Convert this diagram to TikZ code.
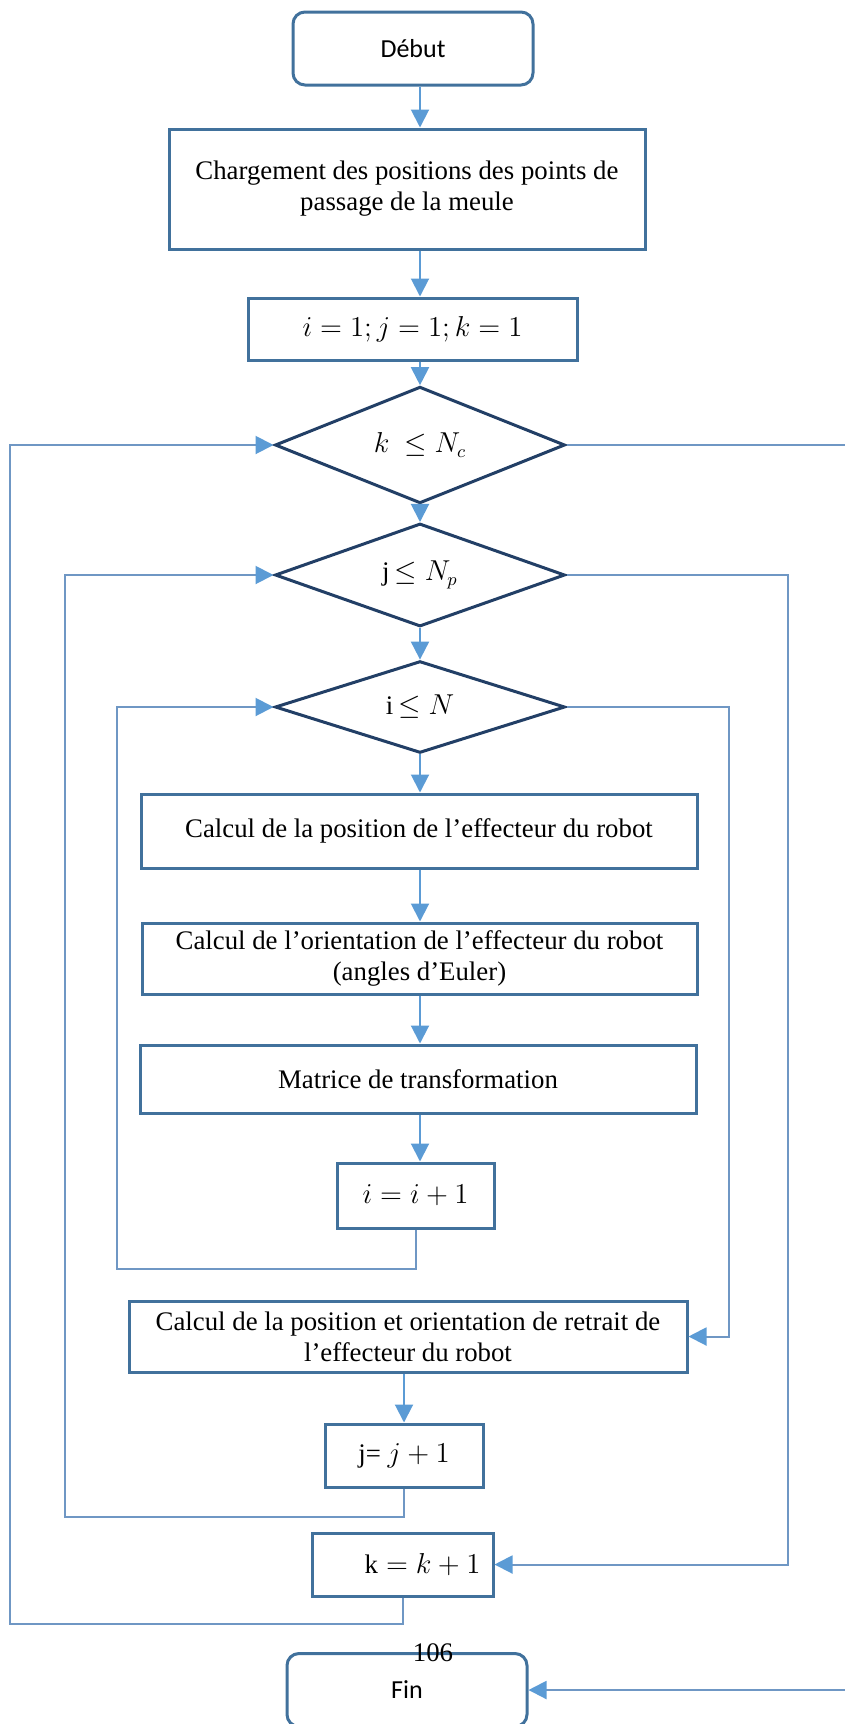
\documentclass[tikz,border=0pt]{standalone}
\usepackage{fontspec}
\setmainfont{Liberation Serif}
\newfontfamily\calibri{Carlito}
\usepackage{tikz}
\usetikzlibrary{positioning,shapes.geometric,arrows.meta,calc}
\definecolor{boxline}{HTML}{41719C}
\definecolor{diamline}{HTML}{223F66}
\definecolor{arrowblue}{HTML}{5B9BD5}
\definecolor{loopline}{HTML}{6F97C4}

\begin{document}
\begin{tikzpicture}[x=0.5pt,y=-0.5pt,
    bloc/.style={draw=boxline,line width=1.5pt,rectangle,align=center,inner sep=2pt,
        font=\fontsize{13.4}{15.5}\selectfont},
    term/.style={bloc,rounded corners=6pt,minimum width=120pt,minimum height=36.5pt,
        font=\calibri\fontsize{13}{15}\selectfont},
    test/.style={draw=diamline,line width=1.5pt,diamond,inner sep=0pt,
        minimum width=145pt,minimum height=41.5pt,font=\fontsize{13.4}{15}\selectfont},
    fleche/.style={draw=arrowblue,line width=1pt,-{Triangle[width=9pt,length=9pt,color=arrowblue]}},
    retour/.style={fleche,draw=loopline}]
    \useasboundingbox (0,0) rectangle (845,1724);

    % blocs
    \node[term] (debut) at (413,48.5) {Début};
    \node[bloc,minimum width=238pt,minimum height=60pt] (charg) at (407,189)
        {Chargement des positions des points de\\passage de la meule};
    \node[bloc,minimum width=164.5pt,minimum height=31pt] (init) at (412.5,329) {$i=1; j=1; k=1$};
    \node[test] (kcond) at (420,445) {$k\ \leq N_c$};
    \node[test] (jcond) at (420,575) {j$\,\leq N_p$};
    \node[test] (icond) at (420,707) {i$\,\leq N$};
    \node[bloc,minimum width=278pt,minimum height=37pt] (pos) at (419,831)
        {Calcul de la position de l’effecteur du robot};
    \node[bloc,minimum width=277.5pt,minimum height=35.5pt] (orient) at (419.5,958.5)
        {Calcul de l’orientation de l’effecteur du robot\\(angles d’Euler)};
    \node[bloc,minimum width=278pt,minimum height=34pt] (matrice) at (418,1079) {Matrice de transformation};
    \node[bloc,minimum width=78.5pt,minimum height=32.5pt] (iinc) at (415.5,1195.5) {$i=i+1$};
    \node[bloc,minimum width=279pt,minimum height=35.5pt] (retrait) at (408,1336.5)
        {Calcul de la position et orientation de retrait de\\l’effecteur du robot};
    \node[bloc,minimum width=79pt,minimum height=31.5pt] (jinc) at (404,1455.5) {j= $j+1$};
    \node[bloc,minimum width=90.5pt,minimum height=31.5pt] (kinc) at (402.5,1564.5)
        {\hspace*{20pt}$\mathrm{k}=k+1$};
    \node[term] (fin) at (407,1690) {Fin};
    \node[font=\fontsize{13.4}{15}\selectfont] (page) at (433,1653) {106};

    % fleches principales
    \draw[fleche] (debut.south -| kcond) -- (charg.north -| kcond);
    \draw[fleche] (charg.south -| kcond) -- (init.north -| kcond);
    \draw[fleche] (init.south -| kcond) -- (kcond.north);
    \draw[fleche] (kcond) -- (jcond);
    \draw[fleche] (jcond) -- (icond);
    \draw[fleche] (icond.south) -- (pos.north -| icond);
    \draw[fleche] (pos.south -| icond) -- (orient.north -| icond);
    \draw[fleche] (orient.south -| icond) -- (matrice.north -| icond);
    \draw[fleche] (matrice.south -| icond) -- (iinc.north -| icond);
    \draw[fleche] (retrait.south -| jinc) -- (jinc.north);

    % boucles
    \coordinate (ibas) at (117,1269);
    \coordinate (idroite) at (729,707);
    \coordinate (jbas) at (65,1517);
    \coordinate (jdroite) at (788,575);
    \coordinate (kbas) at (10,1624);
    \coordinate (kdroite) at (852,445);
    \draw[retour] (iinc.south) |- (ibas) |- (icond.west);
    \draw[retour] (icond.east) -- (idroite) |- (retrait.east);
    \draw[retour] (jinc.south) |- (jbas) |- (jcond.west);
    \draw[retour] (jcond.east) -- (jdroite) |- (kinc.east);
    \draw[retour] (kinc.south) |- (kbas) |- (kcond.west);
    \draw[retour] (kcond.east) -- (kdroite) |- (fin.east);
\end{tikzpicture}
\end{document}
